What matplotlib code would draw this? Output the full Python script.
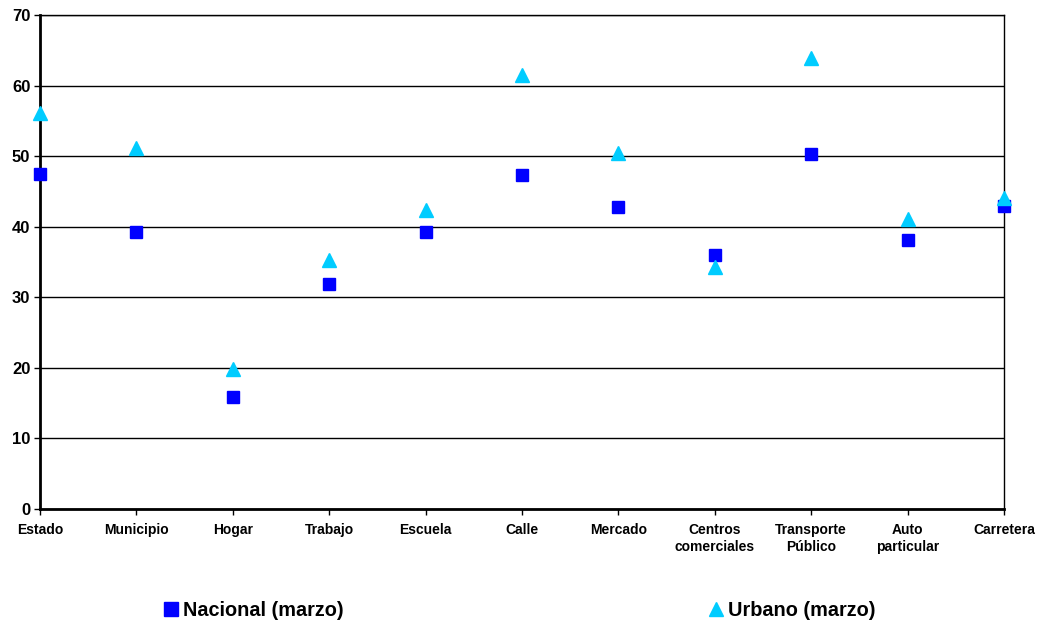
import matplotlib
matplotlib.use("Agg")
import matplotlib.pyplot as plt
from matplotlib.lines import Line2D

plt.rcParams['font.family'] = ['Liberation Sans', 'DejaVu Sans']

categorias = ["Estado", "Municipio", "Hogar", "Trabajo", "Escuela", "Calle",
              "Mercado", "Centros\ncomerciales", "Transporte\nPúblico",
              "Auto\nparticular", "Carretera"]
nacional = [47.5, 39.3, 15.9, 31.9, 39.3, 47.3, 42.8, 36.0, 50.3, 38.1, 42.9]
urbano = [56.1, 51.2, 19.8, 35.3, 42.4, 61.5, 50.4, 34.3, 63.9, 41.1, 44.1]
series = ["Nacional (marzo)", "Urbano (marzo)"]

fig = plt.figure(figsize=(10.4, 6.24), dpi=100)
ax = fig.add_axes([40/1040, 115/624, 964/1040, 494/624])

x = list(range(len(categorias)))
ax.plot(x, nacional, ls='none', marker='s', ms=9, color='#0000FF',
        clip_on=False, zorder=3)
ax.plot(x, urbano, ls='none', marker='^', ms=10, color='#00CCFF',
        clip_on=False, zorder=3)

ax.set_xlim(0, len(categorias) - 1)
ax.set_ylim(0, 70)
ax.set_yticks(range(0, 71, 10))
ax.set_xticks(x)
ax.set_xticklabels(categorias, fontsize=10, fontweight='bold', linespacing=1.3)
for lab in ax.get_yticklabels():
    lab.set_fontweight('bold')
    lab.set_fontsize(12)
ax.tick_params(axis='both', direction='out', length=4, width=1, color='black')
ax.tick_params(axis='x', pad=6)
ax.tick_params(axis='y', pad=3)
ax.grid(axis='y', color='black', linewidth=1)
ax.set_axisbelow(True)
for s in ax.spines.values():
    s.set_color('black')
    s.set_linewidth(1)
ax.spines['bottom'].set_linewidth(2)
ax.spines['left'].set_linewidth(2)

h1 = Line2D([], [], ls='none', marker='s', ms=9.5, color='#0000FF')
h2 = Line2D([], [], ls='none', marker='^', ms=10, color='#00CCFF')
ly = 1 - 610/624
for h, lab, lx in [(h1, series[0], 151/1040), (h2, series[1], 696/1040)]:
    fig.legend([h], [lab], loc='center left', bbox_to_anchor=(lx, ly),
               frameon=False, prop={'weight': 'bold', 'size': 14.3},
               handletextpad=0.0, handlelength=1.2, borderaxespad=0)

fig.savefig("out.png", dpi=100)
